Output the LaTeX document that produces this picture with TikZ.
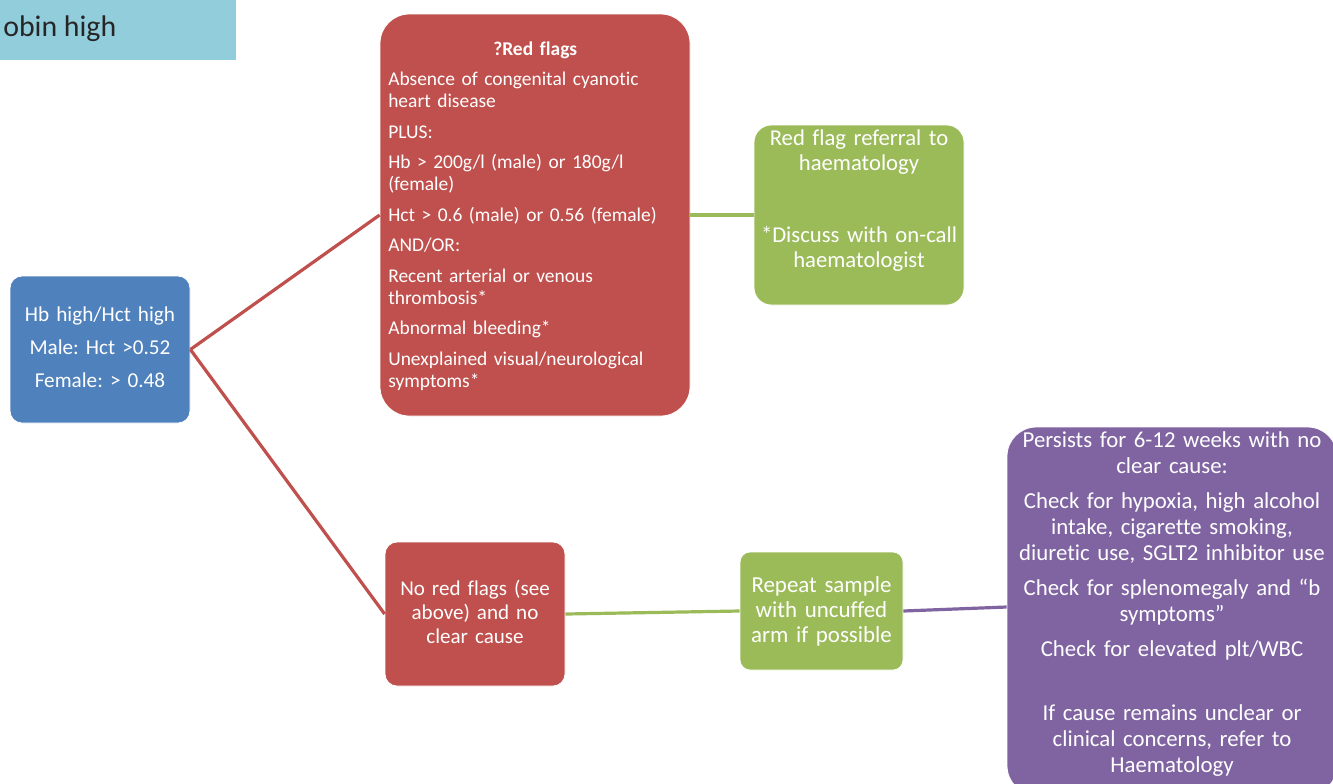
\documentclass[tikz,border=0pt]{standalone}
\usepackage{fontspec}
\setmainfont{Carlito}[Ligatures=NoCommon]
\definecolor{cred}{HTML}{C0504D}
\definecolor{cgreen}{HTML}{9BBB59}
\definecolor{cpurple}{HTML}{8064A2}
\definecolor{cblue}{HTML}{4F81BD}
\definecolor{clight}{HTML}{92CDDC}
\frenchspacing
\begin{document}
\begin{tikzpicture}[x=0.75pt,y=-0.75pt,
  box/.style={draw=white, line width=0.6pt, inner sep=0pt, rectangle},
  txt/.style={text=white, inner sep=0pt, anchor=base, align=center},
  conn/.style={line width=2.4pt},
]
\clip (0,0) rectangle (1333,783);
\fill[white] (0,0) rectangle (1333,783);

% title strip
\node[rectangle, fill=clight, inner sep=0pt, minimum width=252pt, minimum height=45pt] (title) at (68,30) {};
\node[anchor=base west, inner sep=0pt, font=\fontsize{22.4}{26}\selectfont, text=black!85] (titletxt) at (3,36) {obin high};

% boxes
\node[box, fill=cblue, rounded corners=9pt, minimum width=135pt, minimum height=110.25pt] (blue) at (100,349.5) {};
\node[box, fill=cred, rounded corners=22pt, minimum width=232.5pt, minimum height=301.5pt] (rtop) at (535,215) {};
\node[box, fill=cgreen, rounded corners=13pt, minimum width=157.5pt, minimum height=135pt] (gtop) at (859,215) {};
\node[box, fill=cred, rounded corners=9pt, minimum width=135pt, minimum height=108pt] (rbot) at (475,614) {};
\node[box, fill=cgreen, rounded corners=7.5pt, minimum width=122.25pt, minimum height=88.5pt] (gbot) at (821.5,611) {};
\node[box, fill=cpurple, rounded corners=22pt, minimum width=247.5pt, minimum height=276pt] (purp) at (1172,611) {};
\coordinate (pin) at ([yshift=3pt]purp.west);

% connectors
\draw[conn, cred] (blue.east) -- (rtop.west);
\draw[conn, cred] (blue.east) -- (rbot.west);
\draw[conn, cgreen] (rtop.east) -- (gtop.west);
\draw[conn, cgreen] (rbot.east) -- (gbot.west);
\draw[conn, cpurple] (gbot.east) -- (pin);

% texts
\node[txt, text width=160pt, font=\fontsize{15.9}{24.75}\selectfont] (tblue) at (100,321)
  {Hb high/Hct high\\Male: Hct >0.52\\Female: > 0.48};

\node[txt, anchor=base west, align=left, text width=220.5pt, font=\fontsize{14.6}{16.5}\selectfont] (trtop) at (388,55)
  {\makebox[220.5pt][c]{\bfseries ?Red flags}\\[6.4pt]
   Absence of congenital cyanotic\\
   heart disease\\[6.4pt]
   PLUS:\\[6.4pt]
   Hb > 200g/l (male) or 180g/l\\
   (female)\\[6.4pt]
   Hct > 0.6 (male) or 0.56 (female)\\[6.4pt]
   AND/OR:\\[6.4pt]
   Recent arterial or venous\\
   thrombosis*\\[6.4pt]
   Abnormal bleeding*\\[6.4pt]
   Unexplained visual/neurological\\
   symptoms*};

\node[txt, text width=200pt, font=\fontsize{17}{18.75}\selectfont] (tgtop) at (859,145)
  {Red flag referral to\\haematology\\[35.25pt]*Discuss with on-call\\haematologist};

\node[txt, text width=160pt, font=\fontsize{15.8}{18}\selectfont] (trbot) at (475,595)
  {No red flags (see\\above) and no\\clear cause};

\node[txt, text width=160pt, font=\fontsize{17.2}{18.75}\selectfont] (tgbot) at (821.5,592)
  {Repeat sample\\with uncuffed\\arm if possible};

\node[txt, text width=260pt, font=\fontsize{17.1}{19.5}\selectfont] (tpurp) at (1172,447)
  {Persists for 6-12 weeks with no\\clear cause:\\[6.75pt]
   Check for hypoxia, high alcohol\\intake, cigarette smoking,\\diuretic use, SGLT2 inhibitor use\\[6.75pt]
   Check for splenomegaly and “b\\symptoms”\\[6.75pt]
   Check for elevated plt/WBC\\[28.5pt]
   If cause remains unclear or\\clinical concerns, refer to\\Haematology};
\end{tikzpicture}
\end{document}
